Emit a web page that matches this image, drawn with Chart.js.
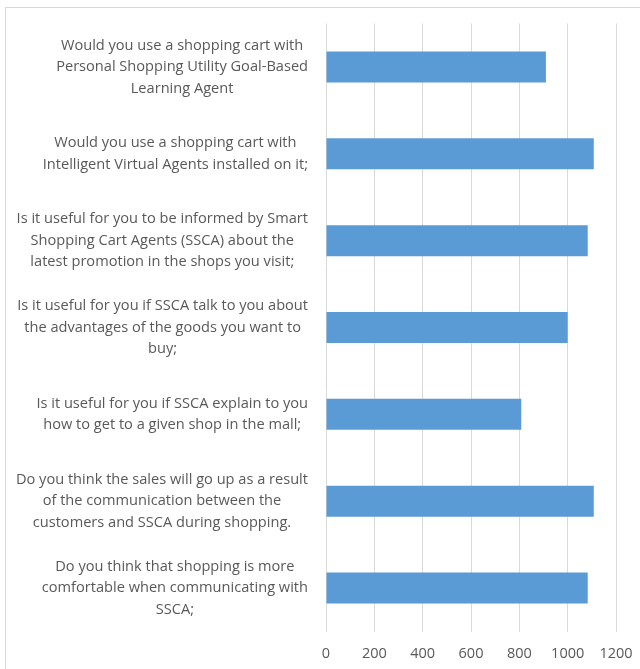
<!DOCTYPE html>
<html>
<head>
<meta charset="utf-8">
<script src="https://cdn.jsdelivr.net/npm/chart.js@4.4.0/dist/chart.umd.min.js"></script>
<style>
  html, body { margin: 0; padding: 0; background: #fff; }
  #wrap { position: relative; width: 640px; height: 669px; overflow: hidden; }
  #frame { position: absolute; left: 5px; top: 7px; width: 700px; height: 700px;
           border-left: 1.5px solid #d9d9d9; border-top: 1.5px solid #d9d9d9; }
  #survey { position: absolute; left: 0; top: 0; }
</style>
</head>
<body>
<div id="wrap">
  <div id="frame"></div>
  <canvas id="survey" width="640" height="669"></canvas>
</div>
<script>
// survey questions, one array of wrapped lines per bar
const questions = [
  ['Would you use a shopping cart with', 'Personal Shopping Utility Goal-Based', 'Learning Agent'],
  ['Would you use a shopping cart with', 'Intelligent Virtual Agents installed on it;'],
  ['Is it useful for you to be informed by Smart', 'Shopping Cart Agents (SSCA) about the', 'latest promotion in the shops you visit;'],
  ['Is it useful for you if SSCA talk to you about', 'the advantages of the goods you want to', 'buy;'],
  ['Is it useful for you if SSCA explain to you', 'how to get to a given shop in the mall;'],
  ['Do you think the sales will go up as a result', 'of the communication between the', 'customers and SSCA during shopping.'],
  ['Do you think that shopping is more', 'comfortable when communicating with', 'SSCA;']
];
const responses = [910, 1108, 1083, 1000, 808, 1108, 1083];
const xTicks = [0, 200, 400, 600, 800, 1000, 1200];

const textColor = '#595959';
const gridColor = '#d9d9d9';
const barColor = '#5b9bd5';
const fontFamily = '"Open Sans"';
const labelFont = '14.6px ' + fontFamily;

// category labels: each block centred on its widest line, blocks right-aligned to the axis
const questionLabels = {
  id: 'questionLabels',
  afterDraw(chart) {
    const ctx = chart.ctx;
    const yScale = chart.scales.y;
    const right = yScale.right - 18;
    const lineHeight = 21.5;
    ctx.save();
    ctx.font = labelFont;
    ctx.fillStyle = textColor;
    ctx.textAlign = 'center';
    ctx.textBaseline = 'middle';
    questions.forEach((lines, i) => {
      const widest = Math.max(...lines.map(l => ctx.measureText(l).width));
      const cx = right - widest / 2;
      const cy = yScale.getPixelForValue(i);
      lines.forEach((line, j) => {
        ctx.fillText(line, cx, cy + (j - (lines.length - 1) / 2) * lineHeight);
      });
    });
    ctx.restore();
  }
};

function draw() {
  new Chart(document.getElementById('survey'), {
    type: 'bar',
    data: {
      labels: questions.map(q => q.join(' ')),
      datasets: [{
        data: responses,
        backgroundColor: barColor,
        borderWidth: 0,
        categoryPercentage: 1,
        barPercentage: 0.357
      }]
    },
    options: {
      indexAxis: 'y',
      responsive: false,
      animation: false,
      layout: { padding: { top: 23.5, right: 24, bottom: 0, left: 0 } },
      plugins: {
        legend: { display: false },
        tooltip: { enabled: false }
      },
      scales: {
        x: {
          min: xTicks[0],
          max: xTicks[xTicks.length - 1],
          afterBuildTicks: s => { s.ticks = xTicks.map(v => ({ value: v })); },
          afterFit: s => {
            s.height = 37.5;
            s.paddingLeft = 0;
            s.paddingRight = 0;
          },
          grid: { color: gridColor, lineWidth: 1, drawTicks: false },
          border: { display: false },
          ticks: {
            color: textColor,
            font: { family: fontFamily, size: 14.5 },
            padding: 13.5,
            maxRotation: 0,
            callback: v => String(v)
          }
        },
        y: {
          afterFit: s => { s.width = 326; },
          grid: { display: false },
          border: { display: false },
          ticks: { display: false }
        }
      }
    },
    plugins: [questionLabels]
  });
}

document.fonts.load(labelFont).then(draw, draw);
</script>
</body>
</html>
